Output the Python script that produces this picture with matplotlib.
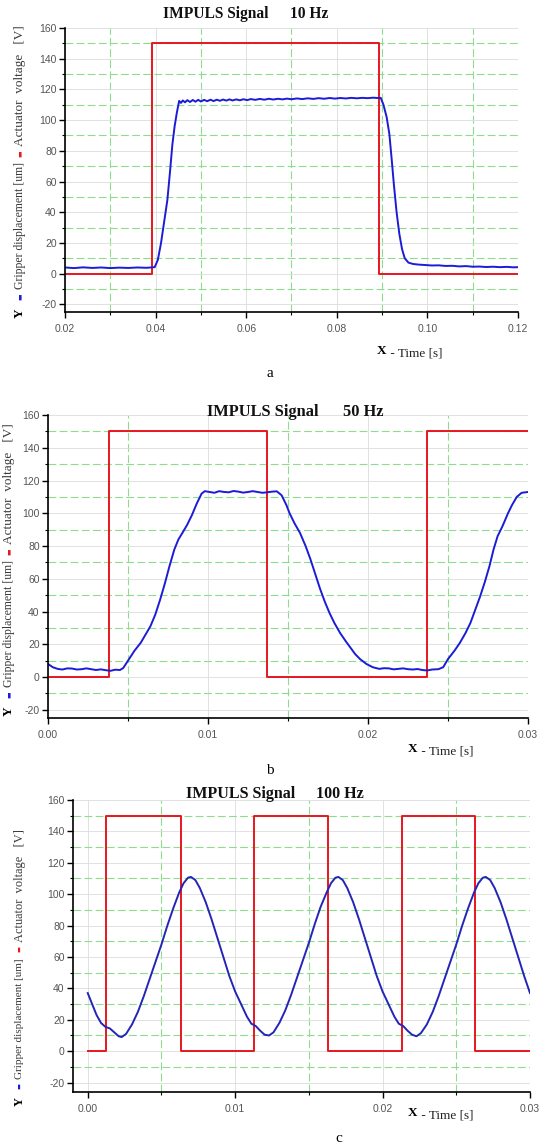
import numpy as np
import matplotlib.pyplot as plt
from matplotlib.ticker import MultipleLocator, FormatStrFormatter
from matplotlib.text import Annotation

plt.rcParams['font.family'] = ['Liberation Sans', 'DejaVu Sans']
plt.rcParams['axes.unicode_minus'] = False

# ---- data ----
# panel a, 10 Hz
t_a_red = [0.02, 0.0393, 0.0393, 0.0893, 0.0893, 0.12]
v_a_red = [0, 0, 150, 150, 0, 0]
t_a_blue = [0.020, 0.022, 0.024, 0.026, 0.028, 0.030, 0.032, 0.034, 0.036, 0.038, 0.0398,
            0.0405, 0.0412, 0.0419, 0.0426, 0.0432, 0.0437, 0.0442, 0.0447, 0.0452,
            0.0456, 0.0460, 0.0465, 0.0470, 0.0476, 0.0482, 0.0488, 0.0494, 0.0500,
            0.0507, 0.0514, 0.0521, 0.0528, 0.0535, 0.0542, 0.0549, 0.0556, 0.0563,
            0.0570, 0.0578, 0.0586, 0.0594, 0.0602, 0.0610, 0.0620, 0.0630, 0.0640,
            0.0650, 0.0660, 0.0670, 0.0680, 0.0690, 0.0700, 0.0712, 0.0724, 0.0736,
            0.0748, 0.0760, 0.0772, 0.0784, 0.0796, 0.0808, 0.0820, 0.0832, 0.0844,
            0.0856, 0.0868, 0.0880, 0.0890, 0.0897,
            0.0903, 0.0910, 0.0916, 0.0921, 0.0926, 0.0932, 0.0938, 0.0944, 0.0950,
            0.0958, 0.0968, 0.0980, 0.0995, 0.1010, 0.1025, 0.1040, 0.1055, 0.1070,
            0.1085, 0.1100, 0.1115, 0.1130, 0.1145, 0.1160, 0.1175, 0.1190, 0.1200]
v_a_blue = [4.0, 3.6, 4.1, 3.7, 4.0, 3.6, 3.9, 3.7, 4.0, 3.8, 4.2,
            9, 20, 34, 48, 67, 84, 96, 105, 112.5,
            111.2, 112.8, 111.6, 113.0, 111.8, 113.1, 112.0, 113.2, 112.1,
            113.2, 112.3, 113.3, 112.4, 113.3, 112.6, 113.4, 112.7, 113.5,
            112.8, 113.5, 112.9, 113.6, 113.0, 113.7, 113.2, 113.8, 113.3,
            113.9, 113.4, 113.9, 113.5, 114.0, 113.6, 114.1, 113.7, 114.2,
            113.8, 114.3, 113.9, 114.4, 114.0, 114.4, 114.1, 114.5, 114.2,
            114.5, 114.3, 114.6, 114.4, 114.5,
            110, 102, 91, 75, 58, 40, 26, 16, 10,
            7.2, 6.3, 5.9, 5.6, 5.3, 5.4, 5.0, 5.1, 4.7,
            4.9, 4.5, 4.6, 4.3, 4.5, 4.2, 4.4, 4.1, 4.2]

# panel b, 50 Hz
t_b_red = [0.0, 0.0038, 0.0038, 0.0137, 0.0137, 0.0237, 0.0237, 0.030]
v_b_red = [0, 0, 150, 150, 0, 0, 150, 150]
t_b_blue_ms = [0.0, 0.3, 0.6, 0.9, 1.2, 1.5, 1.8, 2.1, 2.4, 2.7, 3.0, 3.3, 3.6, 3.9, 4.2, 4.5,
               4.7, 5.0, 5.4, 5.8, 6.1, 6.4, 6.7, 7.0, 7.3, 7.6, 7.9, 8.15, 8.4, 8.7, 9.0,
               9.3, 9.6, 9.8, 10.1, 10.4, 10.7, 11.0, 11.3, 11.6, 11.9, 12.2, 12.5, 12.8,
               13.1, 13.4, 13.7, 14.0, 14.3, 14.6, 14.9, 15.1, 15.4, 15.75, 16.1, 16.4,
               16.7, 17.0, 17.3, 17.6, 17.9, 18.25, 18.6, 18.9, 19.2, 19.5, 19.9, 20.3,
               20.7, 21.0, 21.3, 21.6, 21.9, 22.2, 22.5, 22.8, 23.1, 23.4, 23.7, 24.0,
               24.4, 24.7, 25.0, 25.4, 25.75, 26.1, 26.4, 26.7, 27.0, 27.3, 27.6, 27.85,
               28.1, 28.4, 28.75, 29.0, 29.3, 29.6, 30.0]
v_b_blue = [8.0, 6.0, 5.0, 4.6, 5.3, 5.2, 4.6, 4.8, 5.3, 4.8, 4.3, 4.7, 4.2, 3.8, 4.5, 4.3,
            5.5, 10, 16, 21, 26, 31, 38, 47, 57, 68, 78, 84, 88, 93, 99,
            106, 112, 113.5, 113, 112.5, 113.5, 113, 112.8, 113.6, 113.2, 112.6, 113, 113.5,
            113, 112.5, 112.8, 113.2, 113.4, 111, 105, 100, 94, 88, 80, 72,
            63, 54, 46, 39, 33, 27, 22, 18, 14, 11, 8, 6,
            5, 5.4, 5.3, 4.7, 5.0, 5.3, 4.8, 4.6, 4.9, 4.3, 4.0, 4.6,
            4.8, 6, 11, 16, 21, 27, 33, 41, 49, 58, 68, 78,
            86, 92, 100, 105, 110, 112.5, 113]

# panel c, 100 Hz
t_c_red_ms = [0.0, 1.25, 1.25, 6.3, 6.3, 11.3, 11.3, 16.3, 16.3, 21.3, 21.3, 26.3, 26.3, 30.0]
v_c_red = [0, 0, 150, 150, 0, 0, 150, 150, 0, 0, 150, 150, 0, 0]
t_c_blue_ms = [0.0, 0.3, 0.6, 0.9, 1.2, 1.5, 1.8, 2.1, 2.3, 2.6, 3.0, 3.4, 3.8, 4.2, 4.6,
               5.0, 5.4, 5.8, 6.2, 6.5, 6.8, 7.0, 7.3, 7.6, 8.0, 8.4, 8.8, 9.2, 9.6,
               10.0, 10.4, 10.8, 11.1, 11.4, 11.7, 12.0, 12.3, 12.6, 13.0, 13.4, 13.8,
               14.2, 14.6, 15.0, 15.4, 15.8, 16.2, 16.5, 16.8, 17.0, 17.3, 17.6, 18.0,
               18.4, 18.8, 19.2, 19.6, 20.0, 20.4, 20.8, 21.1, 21.4, 21.7, 22.0, 22.3,
               22.6, 23.0, 23.4, 23.8, 24.2, 24.6, 25.0, 25.4, 25.8, 26.2, 26.5, 26.8,
               27.0, 27.3, 27.6, 28.0, 28.4, 28.8, 29.2, 29.6, 30.0]
v_c_blue = [37, 30, 23, 18, 15.5, 14.5, 12, 9.5, 9, 11, 17, 25, 35, 46, 57,
            68, 80, 91, 101, 107, 110.5, 111, 109, 104, 95, 84, 72, 60, 48,
            38, 30, 22, 17.5, 16, 13, 10.5, 10, 12, 18, 26, 36,
            47, 58, 69, 81, 92, 101, 107, 110.5, 111, 109, 104, 95,
            84, 72, 60, 48, 38, 30, 22, 17.5, 16, 13, 10.5, 9.5,
            11.5, 17, 25, 35, 46, 57, 68, 80, 91, 101, 107, 110.5,
            111, 109, 104, 95, 84, 72, 60, 48, 37]

RED = '#e8161e'
BLUE = '#1b1bd8'
SERIF = ['Liberation Serif', 'DejaVu Serif']

W, H = 540, 1147
fig = plt.figure(figsize=(W / 100, H / 100), dpi=100)


def box(l, t, r, b):
    return [l / W, 1 - b / H, (r - l) / W, (b - t) / H]


def fpos(x, y):
    return x / W, 1 - y / H


def panel(rect, xlim, xstep, ylim):
    ax = fig.add_axes(rect)
    ax.set_xlim(xlim)
    ax.set_ylim(ylim)
    ax.xaxis.set_major_locator(MultipleLocator(xstep))
    ax.xaxis.set_minor_locator(MultipleLocator(xstep / 2))
    ax.yaxis.set_major_locator(MultipleLocator(20))
    ax.yaxis.set_minor_locator(MultipleLocator(10))
    ax.xaxis.set_major_formatter(FormatStrFormatter('%.2f'))
    ax.grid(which='major', color='#dcdcdc', lw=0.6)
    ax.grid(which='minor', color='#8edc8e', lw=0.8, ls=(0, (7, 3)))
    ax.set_axisbelow(True)
    for s in ['top', 'right']:
        ax.spines[s].set_visible(False)
    for s in ['left', 'bottom']:
        ax.spines[s].set_linewidth(1.2)
    ax.tick_params(which='major', direction='out', length=4, width=1, labelsize=7.5,
                   labelcolor='#555555', pad=2)
    ax.tick_params(which='minor', direction='out', length=2.5, width=0.8)
    ax.tick_params(axis='x', pad=5)
    return ax


def ylabel(x, y_bottom, size):
    parts = [('▬', BLUE, ['DejaVu Sans'], size - 3.5, 6),
             ('Gripper displacement [um]', '#3a3a3a', SERIF, size, 3),
             ('▬', RED, ['DejaVu Sans'], size - 3.5, 4),
             ('Actuator  voltage   [V]', '#3a3a3a', SERIF, size * 1.12, 3)]
    prev = fig.text(*fpos(x, y_bottom), 'Y', rotation=90, ha='center', va='bottom',
                    fontweight='bold', family=SERIF, fontsize=size + 1)
    for s, c, fam, fs, gap in parts:
        a = Annotation(s, xy=(0.5, 1), xycoords=prev, xytext=(0, gap),
                       textcoords='offset points', rotation=90, ha='center', va='bottom',
                       color=c, family=fam, fontsize=fs)
        fig.add_artist(a)
        prev = a


def xlabel(x, y, size):
    xt = fig.text(*fpos(x, y), 'X', fontweight='bold', family=SERIF, fontsize=size,
                  ha='left', va='baseline')
    a = Annotation(' - Time [s]', xy=(1, 0), xycoords=xt, ha='left', va='baseline',
                   family=SERIF, fontsize=size, color='#222222')
    fig.add_artist(a)


def title(x, y, s, x_hz, s_hz, size):
    for xx, txt in [(x, s), (x_hz, s_hz)]:
        fig.text(*fpos(xx, y), txt, ha='left', va='center', fontweight='bold',
                 family=SERIF, fontsize=size, color='#111111')


# panel a
ax = panel(box(65, 28, 518, 312), (0.02, 0.12), 0.02, (-25, 160))
ax.plot(t_a_red, v_a_red, color=RED, lw=1.4)
ax.plot(t_a_blue, v_a_blue, color=BLUE, lw=1.4)
title(163, 14, 'IMPULS Signal', 290, '10 Hz', 11.2)
ylabel(20, 318, 8.5)
xlabel(377, 354, 9.5)
fig.text(*fpos(270, 373), 'a', ha='center', va='center', family=SERIF, fontsize=11)

# panel b
ax = panel(box(48, 415, 528, 718), (0.0, 0.03), 0.01, (-25, 160))
ax.plot(t_b_red, v_b_red, color=RED, lw=1.4)
ax.plot(np.array(t_b_blue_ms) / 1000, v_b_blue, color=BLUE, lw=1.4)
title(207, 412, 'IMPULS Signal', 343, '50 Hz', 11.8)
ylabel(9, 716, 8.5)
xlabel(408, 752, 9.5)
fig.text(*fpos(270, 771), 'b', ha='center', va='center', family=SERIF, fontsize=11)

# panel c
ax = panel(box(73, 800, 530, 1092), (-0.001, 0.03), 0.01, (-26, 160))
ax.plot(np.array(t_c_red_ms) / 1000, v_c_red, color=RED, lw=1.4)
ax.plot(np.array(t_c_blue_ms) / 1000, v_c_blue, color='#2424b8', lw=1.4)
title(186, 794, 'IMPULS Signal', 316, '100 Hz', 11.5)
ylabel(20, 1106, 8)
xlabel(408, 1116, 9.5)
fig.text(*fpos(339, 1139), 'c', ha='center', va='center', family=SERIF, fontsize=11)

fig.savefig('out.png', dpi=100)
